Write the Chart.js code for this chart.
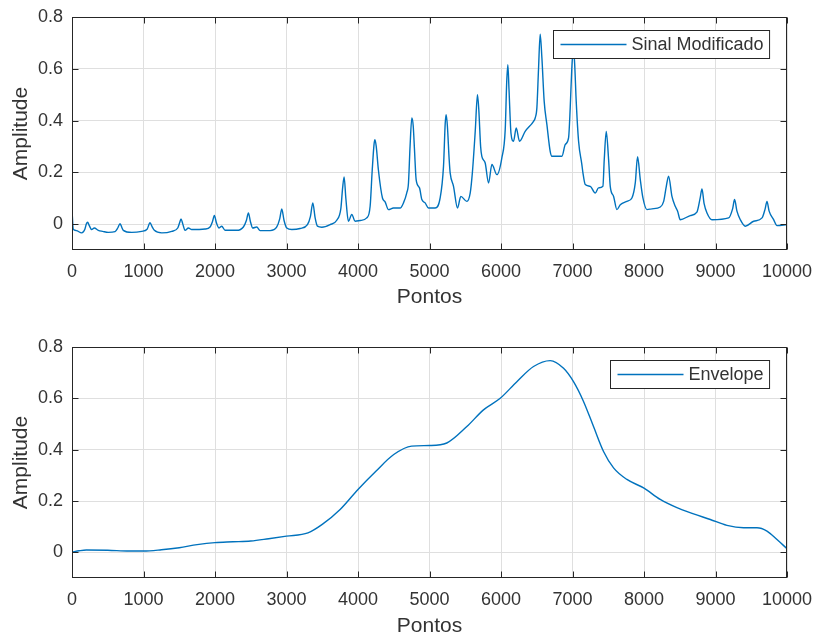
<!DOCTYPE html>
<html>
<head>
<meta charset="utf-8">
<script src="https://cdn.jsdelivr.net/npm/chart.js@4.4.1/dist/chart.umd.min.js"></script>
<style>
  html, body { margin: 0; padding: 0; background: #fff; }
  #wrap { position: relative; width: 816px; height: 639px; overflow: hidden; }
  .painel { position: absolute; left: 0; width: 816px; }
  #painelSinal { top: 0; height: 318px; }
  #painelEnv { top: 318px; height: 321px; }
</style>
</head>
<body>
<div id="wrap">
  <div class="painel" id="painelSinal"><canvas id="chartSinal" width="816" height="318"></canvas></div>
  <div class="painel" id="painelEnv"><canvas id="chartEnv" width="816" height="321"></canvas></div>
</div>
<script>
// Sinal modificado (pontos x amplitude)
const pontosSinal = [
  0, 18, 60, 135, 180, 200, 219, 240, 275, 312,
  368, 430, 508, 602, 640, 672, 700, 718, 835, 975,
  1050, 1091, 1120, 1152, 1255, 1395, 1479, 1505, 1525, 1550,
  1581, 1628, 1674, 1861, 1931, 1965, 1991, 2020, 2057, 2094,
  2141, 2304, 2397, 2440, 2467, 2495, 2528, 2584, 2631, 2770,
  2864, 2905, 2934, 2965, 3004, 3074, 3190, 3293, 3335, 3368,
  3400, 3433, 3494, 3610, 3703, 3760, 3785, 3806, 3830, 3866,
  3913, 3960, 4030, 4123, 4170, 4198, 4225, 4237, 4255, 4285,
  4342, 4379, 4426, 4496, 4589, 4636, 4682, 4706, 4728, 4753,
  4772, 4790, 4813, 4860, 4893, 4939, 4986, 5079, 5149, 5196,
  5220, 5233, 5250, 5275, 5289, 5336, 5392, 5438, 5522, 5569,
  5600, 5640, 5671, 5690, 5715, 5732, 5779, 5826, 5873, 5943,
  6012, 6059, 6080, 6096, 6112, 6140, 6175, 6213, 6259, 6338,
  6455, 6478, 6502, 6525, 6548, 6572, 6604, 6642, 6688, 6712,
  6852, 6898, 6945, 6968, 6990, 7012, 7030, 7052, 7085, 7131,
  7145, 7178, 7248, 7318, 7364, 7425, 7444, 7472, 7505, 7528,
  7575, 7621, 7668, 7761, 7831, 7878, 7910, 7948, 7985, 8041,
  8111, 8228, 8275, 8312, 8344, 8391, 8437, 8470, 8507, 8647,
  8740, 8785, 8811, 8840, 8881, 8951, 9184, 9240, 9267, 9300,
  9347, 9417, 9534, 9651, 9695, 9720, 9750, 9813, 9860, 10000
];
const ampSinal = [
  0.055, -0.02, -0.025, -0.034, -0.02, 0.0, 0.007, -0.005, -0.021, -0.015,
  -0.024, -0.028, -0.032, -0.029, -0.015, 0.002, -0.015, -0.024, -0.032, -0.028,
  -0.02, 0.005, -0.01, -0.024, -0.034, -0.028, -0.015, 0.005, 0.02, 0.0,
  -0.024, -0.015, -0.021, -0.019, -0.011, 0.01, 0.033, 0.005, -0.015, -0.008,
  -0.024, -0.024, -0.011, 0.015, 0.043, 0.01, -0.015, -0.011, -0.025, -0.025,
  -0.011, 0.02, 0.059, 0.015, -0.015, -0.021, -0.017, -0.002, 0.03, 0.082,
  0.025, -0.008, -0.012, -0.002, 0.015, 0.06, 0.14, 0.182, 0.1, 0.011,
  0.037, 0.011, 0.014, 0.024, 0.07, 0.204, 0.31, 0.326, 0.3, 0.21,
  0.101, 0.086, 0.056, 0.062, 0.062, 0.082, 0.121, 0.159, 0.3, 0.41,
  0.38, 0.288, 0.172, 0.14, 0.095, 0.082, 0.062, 0.062, 0.101, 0.224,
  0.39, 0.423, 0.38, 0.25, 0.198, 0.146, 0.062, 0.107, 0.088, 0.12,
  0.2, 0.36, 0.5, 0.44, 0.3, 0.262, 0.236, 0.159, 0.23, 0.191,
  0.256, 0.365, 0.55, 0.616, 0.52, 0.35, 0.32, 0.371, 0.32, 0.358,
  0.397, 0.41, 0.45, 0.6, 0.734, 0.642, 0.474, 0.384, 0.281, 0.262,
  0.262, 0.307, 0.333, 0.449, 0.6, 0.68, 0.62, 0.474, 0.32, 0.23,
  0.2, 0.153, 0.146, 0.12, 0.14, 0.146, 0.249, 0.358, 0.249, 0.146,
  0.107, 0.056, 0.075, 0.088, 0.101, 0.159, 0.26, 0.172, 0.101, 0.056,
  0.059, 0.066, 0.088, 0.146, 0.185, 0.107, 0.069, 0.05, 0.017, 0.033,
  0.046, 0.1, 0.136, 0.08, 0.043, 0.017, 0.024, 0.06, 0.095, 0.05,
  0.017, -0.008, 0.011, 0.024, 0.06, 0.088, 0.05, 0.017, -0.006, -0.002
];

// Envelope
const pontosEnv = [
  0, 100, 200, 500, 800, 1000, 1250, 1500, 1750, 2000, 2250, 2500, 2750, 3000, 3300, 3500, 3750, 4000, 4250, 4500,
  4750, 5000, 5242, 5522, 5755, 5989, 6222, 6455, 6688, 6875, 7014, 7154, 7294, 7434, 7574, 7761, 7994, 8227, 8460, 8693,
  8927, 9160, 9393, 9580, 9720, 9860, 10000
];
const ampEnv = [
  0.001, 0.006, 0.009, 0.008, 0.005, 0.005, 0.01, 0.018, 0.03, 0.038, 0.041, 0.044, 0.053, 0.063, 0.076, 0.109, 0.167, 0.245, 0.316, 0.381,
  0.414, 0.416, 0.426, 0.49, 0.555, 0.6, 0.665, 0.724, 0.747, 0.717, 0.665, 0.588, 0.49, 0.393, 0.329, 0.284, 0.251, 0.206, 0.174, 0.15,
  0.128, 0.105, 0.096, 0.096, 0.083, 0.05, 0.014
];

const rotulosY = [0, 0.2, 0.4, 0.6, 0.8];
const rotulosX = [0, 1000, 2000, 3000, 4000, 5000, 6000, 7000, 8000, 9000, 10000];

const AZUL = '#0072BD';
const ESCURO = '#262626';
const TEXTO = '#333333';
const FONTE = "'Liberation Sans', Arial, sans-serif";

// caixa do eixo, marcas internas e legenda no canto superior direito
const molduraPlugin = {
  id: 'moldura',
  afterDraw(chart, args, opts) {
    const { ctx, chartArea: a, scales: { x, y } } = chart;
    ctx.save();
    ctx.strokeStyle = ESCURO;
    ctx.lineWidth = 1;
    const L = Math.round(a.left) + 0.5, R = Math.round(a.right) - 0.5;
    const T = Math.round(a.top) + 0.5, B = Math.round(a.bottom) - 0.5;
    ctx.beginPath();
    x.ticks.forEach(t => {
      const px = Math.round(x.getPixelForValue(t.value)) + 0.5;
      ctx.moveTo(px, B); ctx.lineTo(px, B - 6);
      ctx.moveTo(px, T); ctx.lineTo(px, T + 6);
    });
    y.ticks.forEach(t => {
      const py = Math.round(y.getPixelForValue(t.value)) + 0.5;
      ctx.moveTo(L, py); ctx.lineTo(L + 6, py);
      ctx.moveTo(R, py); ctx.lineTo(R - 6, py);
    });
    ctx.stroke();
    ctx.strokeRect(L, T, R - L, B - T);

    // legenda
    ctx.font = '18px ' + FONTE;
    const wTexto = ctx.measureText(opts.texto).width;
    const w = 78 + wTexto + 6, h = 28;
    const lx = Math.round(a.right - 18 - w) + 0.5, ly = Math.round(a.top + 13) + 0.5;
    ctx.fillStyle = '#fff';
    ctx.fillRect(lx, ly, w, h);
    ctx.strokeStyle = ESCURO;
    ctx.strokeRect(lx, ly, w, h);
    ctx.strokeStyle = AZUL;
    ctx.lineWidth = 1.4;
    ctx.beginPath();
    ctx.moveTo(lx + 7, ly + h / 2);
    ctx.lineTo(lx + 73, ly + h / 2);
    ctx.stroke();
    ctx.fillStyle = TEXTO;
    ctx.textBaseline = 'middle';
    ctx.textAlign = 'left';
    ctx.fillText(opts.texto, lx + 78, ly + h / 2 + 1);
    ctx.restore();
  }
};

function criarGrafico(id, xs, ys, legenda, topo, altEixoX, padTitulo, tensao) {
  const dados = xs.map((v, i) => ({ x: v, y: ys[i] }));
  return new Chart(document.getElementById(id), {
    type: 'line',
    data: {
      datasets: [{
        label: legenda,
        data: dados,
        borderColor: AZUL,
        borderWidth: 1.4,
        pointRadius: 0,
        fill: false,
        tension: tensao,
        cubicInterpolationMode: 'monotone'
      }]
    },
    options: {
      responsive: false,
      animation: false,
      layout: { padding: { top: topo, right: 29, left: 0, bottom: 0 } },
      plugins: {
        legend: { display: false },
        tooltip: { enabled: false },
        moldura: { texto: legenda }
      },
      scales: {
        x: {
          type: 'linear',
          min: 0, max: 10000,
          afterBuildTicks: s => { s.ticks = rotulosX.map(v => ({ value: v })); },
          afterFit: s => { s.height = altEixoX; s.paddingLeft = 0; s.paddingRight = 0; },
          grid: { color: '#dfdfdf', drawTicks: false },
          border: { display: false },
          ticks: {
            color: TEXTO, padding: 11, maxRotation: 0, autoSkip: false,
            font: { family: FONTE, size: 18 },
            callback: v => String(v)
          },
          title: {
            display: true, text: 'Pontos', color: TEXTO,
            font: { family: FONTE, size: 21 },
            padding: { top: 0, bottom: padTitulo }
          }
        },
        y: {
          min: -0.1, max: 0.8,
          afterBuildTicks: s => { s.ticks = rotulosY.map(v => ({ value: v })); },
          afterFit: s => { s.width = 72; s.paddingTop = 0; s.paddingBottom = 0; },
          grid: { color: '#dfdfdf', drawTicks: false },
          border: { display: false },
          ticks: {
            color: TEXTO, padding: 9,
            font: { family: FONTE, size: 18 },
            callback: v => (v === 0 ? '0' : v.toFixed(1))
          },
          title: {
            display: true, text: 'Amplitude', color: TEXTO,
            font: { family: FONTE, size: 21 },
            padding: { top: 9, bottom: 0 }
          }
        }
      }
    },
    plugins: [molduraPlugin]
  });
}

criarGrafico('chartSinal', pontosSinal, ampSinal, 'Sinal Modificado', 17, 68, 8, 0.3);
criarGrafico('chartEnv', pontosEnv, ampEnv, 'Envelope', 29, 61, 0, 0.4);
</script>
</body>
</html>
